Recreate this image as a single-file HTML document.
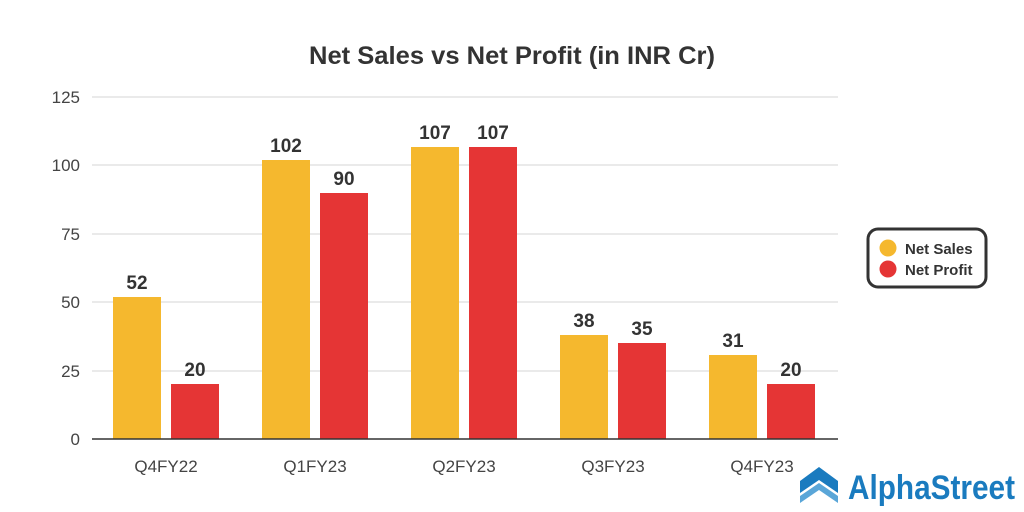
<!DOCTYPE html>
<html><head><meta charset="utf-8"><style>body{margin:0;background:#fff}svg{display:block}</style></head><body>
<svg width="1024" height="512" viewBox="0 0 1024 512" xmlns="http://www.w3.org/2000/svg" font-family="Liberation Sans, sans-serif">
<rect width="1024" height="512" fill="#fff"/>
<text x="512" y="64" text-anchor="middle" font-size="25" font-weight="bold" fill="#333" textLength="406" lengthAdjust="spacingAndGlyphs">Net Sales vs Net Profit (in INR Cr)</text>
<g stroke="#e3e3e3" stroke-width="1.5">
<line x1="92" x2="838" y1="97" y2="97"/><line x1="92" x2="838" y1="165" y2="165"/><line x1="92" x2="838" y1="234" y2="234"/><line x1="92" x2="838" y1="302" y2="302"/><line x1="92" x2="838" y1="371" y2="371"/>
</g>
<g font-size="17" fill="#444" text-anchor="end">
<text x="80" y="103">125</text><text x="80" y="171">100</text><text x="80" y="240">75</text><text x="80" y="308">50</text><text x="80" y="377">25</text><text x="80" y="445">0</text>
</g>
<g fill="#f5b82e">
<rect x="113" y="297" width="48" height="142"/><rect x="262" y="160" width="48" height="279"/><rect x="411" y="147" width="48" height="292"/><rect x="560" y="335" width="48" height="104"/><rect x="709" y="355" width="48" height="84"/>
</g>
<g fill="#e53535">
<rect x="171" y="384" width="48" height="55"/><rect x="320" y="193" width="48" height="246"/><rect x="469" y="147" width="48" height="292"/><rect x="618" y="343" width="48" height="96"/><rect x="767" y="384" width="48" height="55"/>
</g>
<line x1="92" x2="838" y1="439" y2="439" stroke="#333" stroke-width="1.5"/>
<g font-size="19" font-weight="bold" fill="#333" text-anchor="middle">
<text x="137" y="289">52</text><text x="195" y="376">20</text>
<text x="286" y="152">102</text><text x="344" y="185">90</text>
<text x="435" y="139">107</text><text x="493" y="139">107</text>
<text x="584" y="327">38</text><text x="642" y="335">35</text>
<text x="733" y="347">31</text><text x="791" y="376">20</text>
</g>
<g font-size="17" fill="#444" text-anchor="middle">
<text x="166" y="472">Q4FY22</text><text x="315" y="472">Q1FY23</text><text x="464" y="472">Q2FY23</text><text x="613" y="472">Q3FY23</text><text x="762" y="472">Q4FY23</text>
</g>
<rect x="868" y="229" width="118" height="58" rx="10" fill="#fff" stroke="#333" stroke-width="3"/>
<circle cx="888" cy="248" r="8.5" fill="#f5b82e"/><circle cx="888" cy="269" r="8.5" fill="#e53535"/>
<g font-size="15" font-weight="bold" fill="#333"><text x="905" y="254">Net Sales</text><text x="905" y="275">Net Profit</text></g>
<g fill="#1a7bbf">
<polygon points="819,467 838,481 838,493 819,480 800,493 800,481"/>
<polygon points="819,483 838,496 838,503 819,490 800,503 800,496" fill="#5aa6d8"/>
</g>
<text x="848" y="499" font-size="34" font-weight="bold" fill="#1a7bbf" textLength="167" lengthAdjust="spacingAndGlyphs">AlphaStreet</text>
</svg>
</body></html>
